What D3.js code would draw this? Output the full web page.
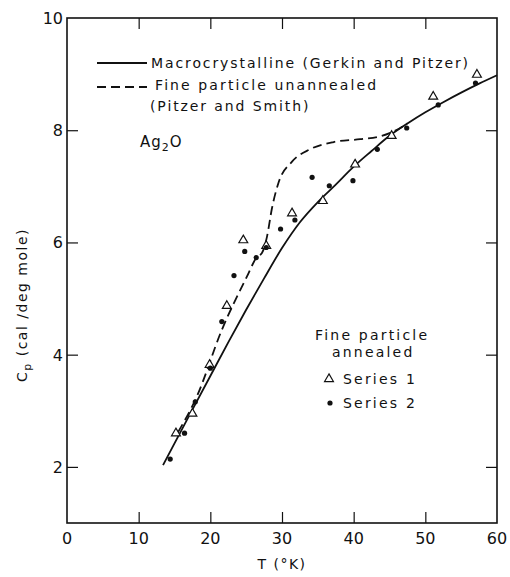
<!DOCTYPE html>
<html><head><meta charset="utf-8">
<script src="https://cdn.jsdelivr.net/npm/d3@7"></script>
<style>
html,body{margin:0;padding:0;background:#fff;}
text{font-family:"DejaVu Sans",sans-serif;fill:#111;}
</style></head>
<body>
<script>
// ---- data ----
const xTicks = [0, 10, 20, 30, 40, 50, 60];
const yTicks = [2, 4, 6, 8, 10];
const macroT  = [13.4, 15, 17.5, 20, 22.5, 25, 27.5, 30, 32.5, 35, 37.5, 40, 42.5, 45, 47.5, 50, 52.5, 55, 57.5, 60];
const macroCp = [2.03, 2.42, 3.02, 3.62, 4.22, 4.80, 5.36, 5.90, 6.36, 6.72, 7.03, 7.35, 7.63, 7.90, 8.12, 8.32, 8.50, 8.67, 8.83, 8.98];
const fineT  = [15.5, 18.1, 21.6, 25.1, 26.5, 27.2, 27.9, 28.6, 29.5, 31.4, 33.9, 37.2, 40.9, 43.7, 46.5, 47.5];
const fineCp = [2.62, 3.25, 4.44, 5.39, 5.74, 5.81, 6.10, 6.61, 7.06, 7.44, 7.66, 7.79, 7.84, 7.89, 8.04, 8.12];
const s1T  = [15.2, 17.5, 19.9, 22.3, 24.6, 27.8, 31.4, 35.7, 40.2, 45.3, 51.1, 57.2];
const s1Cp = [2.60, 2.95, 3.82, 4.87, 6.04, 5.94, 6.52, 6.74, 7.39, 7.90, 8.60, 8.99];
const s2T  = [14.4, 16.4, 17.9, 20.0, 21.6, 23.3, 24.8, 26.4, 27.8, 29.8, 31.8, 34.2, 36.6, 39.9, 43.3, 47.4, 51.8, 57.0];
const s2Cp = [2.14, 2.60, 3.16, 3.76, 4.59, 5.41, 5.84, 5.73, 5.91, 6.24, 6.40, 7.16, 7.01, 7.10, 7.66, 8.04, 8.45, 8.84];
const legendLabels = ["Macrocrystalline (Gerkin and Pitzer)", "Fine particle unannealed", "(Pitzer and Smith)"];
const annealLabels = ["Fine particle", "annealed", "Series 1", "Series 2"];

const W = 510, H = 577;
const L = 67, R = 497, T = 18, B = 523;
const svg = d3.select("body").append("svg").attr("width", W).attr("height", H);

const x = d3.scaleLinear().domain([0, 60]).range([L, R]);
const y = d3.scaleLinear().domain([1, 10]).range([B, T]);

// frame
svg.append("rect").attr("x", L).attr("y", T).attr("width", R - L).attr("height", B - T)
  .attr("fill", "none").attr("stroke", "#111").attr("stroke-width", 1.6);

const inner = xTicks.filter(d => d > 0 && d < 60);
const innerY = yTicks.filter(d => d < 10);
const tk = 11;
const axB = d3.axisBottom(x).tickValues(inner).tickSizeInner(-tk).tickSizeOuter(0).tickFormat("");
const axT = d3.axisTop(x).tickValues(inner).tickSizeInner(-tk).tickSizeOuter(0).tickFormat("");
const axL = d3.axisLeft(y).tickValues(innerY).tickSizeInner(-tk).tickSizeOuter(0).tickFormat("");
const axR = d3.axisRight(y).tickValues(innerY).tickSizeInner(-tk).tickSizeOuter(0).tickFormat("");
[[axB, `translate(0,${B})`], [axT, `translate(0,${T})`], [axL, `translate(${L},0)`], [axR, `translate(${R},0)`]].forEach(([a, t]) => {
  const g = svg.append("g").attr("transform", t).call(a);
  g.select(".domain").remove();
  g.selectAll("line").attr("stroke", "#111").attr("stroke-width", 1.2);
});

// tick labels
svg.append("g").selectAll("text").data(xTicks).join("text")
  .attr("x", d => x(d)).attr("y", 544).attr("text-anchor", "middle")
  .style("font-size", "16px").text(d => d);
svg.append("g").selectAll("text").data(yTicks).join("text")
  .attr("x", 63).attr("y", d => y(d) + 6).attr("text-anchor", "end")
  .style("font-size", "16px").text(d => d);

// axis titles
svg.append("text").attr("x", x(30)).attr("y", 569).attr("text-anchor", "middle")
  .style("font-size", "14px").style("letter-spacing", "1.5px").text("T (°K)");
const yt = svg.append("text").attr("transform", `translate(27,${305}) rotate(-90)`)
  .attr("text-anchor", "middle").style("font-size", "14px").style("letter-spacing", "1.5px");
yt.append("tspan").text("C");
yt.append("tspan").attr("dy", 4).style("font-size", "11px").text("p");
yt.append("tspan").attr("dy", -4).text("  (cal /deg mole)");

// lines
const line = d3.line().x(d => x(d[0])).y(d => y(d[1])).curve(d3.curveMonotoneX);
svg.append("path").datum(macroT.map((t, i) => [t, macroCp[i]])).attr("d", line)
  .attr("fill", "none").attr("stroke", "#111").attr("stroke-width", 1.8);
svg.append("path").datum(fineT.map((t, i) => [t, fineCp[i]])).attr("d", line)
  .attr("fill", "none").attr("stroke", "#111").attr("stroke-width", 1.8).attr("stroke-dasharray", "9,5");

// markers
const tri = d3.symbol().type(d3.symbolTriangle).size(34);
svg.append("g").selectAll("path").data(s1T.map((t, i) => [t, s1Cp[i]])).join("path")
  .attr("d", tri).attr("transform", d => `translate(${x(d[0])},${y(d[1])})`)
  .attr("fill", "#fff").attr("stroke", "#111").attr("stroke-width", 1.2);
svg.append("g").selectAll("circle").data(s2T.map((t, i) => [t, s2Cp[i]])).join("circle")
  .attr("cx", d => x(d[0])).attr("cy", d => y(d[1])).attr("r", 2.6).attr("fill", "#111");

// legend
const lg = svg.append("g").style("font-size", "14px").style("letter-spacing", "1.9px");
lg.append("line").attr("x1", 97).attr("x2", 147).attr("y1", 63).attr("y2", 63)
  .attr("stroke", "#111").attr("stroke-width", 1.8);
lg.append("text").attr("x", 151).attr("y", 68).text(legendLabels[0]);
lg.append("line").attr("x1", 97).attr("x2", 147).attr("y1", 87).attr("y2", 87)
  .attr("stroke", "#111").attr("stroke-width", 1.8).attr("stroke-dasharray", "9,5");
lg.append("text").attr("x", 155).attr("y", 90).style("letter-spacing", "2.1px").text(legendLabels[1]);
lg.append("text").attr("x", 150).attr("y", 111).text(legendLabels[2]);

// Ag2O
const ag = svg.append("text").attr("x", 140).attr("y", 147).style("font-size", "15px").style("letter-spacing", "1px");
ag.append("tspan").text("Ag");
ag.append("tspan").attr("dy", 4).style("font-size", "11px").text("2");
ag.append("tspan").attr("dy", -4).text("O");

// annealed legend
const al = svg.append("g").style("font-size", "14px").style("letter-spacing", "2.2px");
al.append("text").attr("x", 315).attr("y", 340).text(annealLabels[0]);
al.append("text").attr("x", 332).attr("y", 357).text(annealLabels[1]);
al.append("path").attr("d", tri).attr("transform", "translate(329,379)")
  .attr("fill", "#fff").attr("stroke", "#111").attr("stroke-width", 1.2);
al.append("text").attr("x", 343).attr("y", 384).text(annealLabels[2]);
al.append("circle").attr("cx", 330).attr("cy", 403).attr("r", 2.6).attr("fill", "#111");
al.append("text").attr("x", 343).attr("y", 408).text(annealLabels[3]);
</script>
</body></html>
